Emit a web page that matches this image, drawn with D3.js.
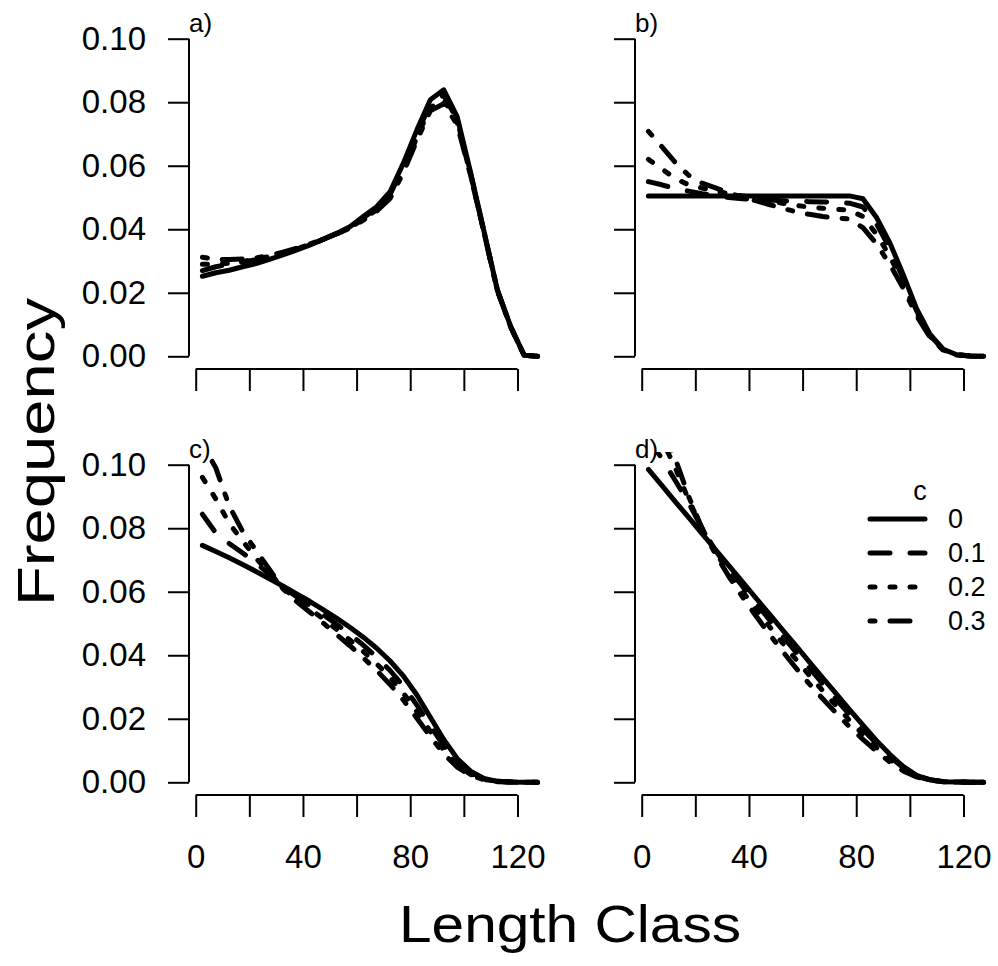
<!DOCTYPE html>
<html>
<head>
<meta charset="utf-8">
<script src="https://cdn.jsdelivr.net/npm/d3@7"></script>
<style>
  body { margin: 0; background: #fff; }
  text { font-family: "Liberation Sans", Arial, sans-serif; fill: #000; }
</style>
</head>
<body>
<div id="chart"></div>
<script>
(function (d3) {
	'use strict';

	// length classes (mid points)
	const lengthClass = [2.5, 7.5, 12.5, 17.5, 22.5, 27.5, 32.5, 37.5, 42.5, 47.5, 52.5, 57.5, 62.5,
	                     67.5, 72.5, 77.5, 82.5, 87.5, 92.5, 97.5, 102.5, 107.5, 112.5, 117.5, 122.5, 127.5];
	const cLabels = ['0', '0.1', '0.2', '0.3'];
	const panelNames = ['a)', 'b)', 'c)', 'd)'];
	const yTicks = [0, 0.02, 0.04, 0.06, 0.08, 0.10];
	const yTickLabels = ['0.00', '0.02', '0.04', '0.06', '0.08', '0.10'];
	const xTicks = [0, 20, 40, 60, 80, 100, 120];
	const xTickLabels = ['0', '', '40', '', '80', '', '120'];

	// a)
	const aC0 = [0.0252, 0.0263, 0.0271, 0.0282, 0.0292, 0.0305, 0.0319, 0.0334, 0.0350, 0.0368, 0.0387, 0.0408, 0.0440,
	             0.0471, 0.0518, 0.0609, 0.0713, 0.0808, 0.0839, 0.0755, 0.0579, 0.0394, 0.0209, 0.0093, 0.0003, 0];
	const aC1 = [0.0270, 0.0282, 0.0290, 0.0297, 0.0304, 0.0313, 0.0324, 0.0337, 0.0351, 0.0368, 0.0386, 0.0406, 0.0436,
	             0.0466, 0.0510, 0.0597, 0.0700, 0.0795, 0.0822, 0.0745, 0.0575, 0.0392, 0.0208, 0.0092, 0.0003, 0];
	const aC2 = [0.0290, 0.0290, 0.0293, 0.0298, 0.0306, 0.0314, 0.0325, 0.0338, 0.0352, 0.0368, 0.0385, 0.0404, 0.0432,
	             0.0461, 0.0503, 0.0588, 0.0690, 0.0783, 0.0808, 0.0738, 0.0572, 0.0391, 0.0207, 0.0092, 0.0003, 0];
	const aC3 = [0.0312, 0.0305, 0.0305, 0.0306, 0.0310, 0.0318, 0.0328, 0.0340, 0.0353, 0.0369, 0.0385, 0.0403, 0.0429,
	             0.0457, 0.0497, 0.0580, 0.0680, 0.0773, 0.0795, 0.0730, 0.0570, 0.0390, 0.0207, 0.0092, 0.0003, 0];
	// b)
	const bC0 = [0.0505, 0.0505, 0.0505, 0.0505, 0.0505, 0.0505, 0.0505, 0.0505, 0.0505, 0.0505, 0.0505, 0.0505, 0.0505,
	             0.0505, 0.0505, 0.0505, 0.0496, 0.0438, 0.0358, 0.0258, 0.0150, 0.0070, 0.0022, 0.0005, 0.0001, 0];
	const bC1 = [0.0550, 0.0540, 0.0528, 0.0520, 0.0512, 0.0505, 0.0500, 0.0496, 0.0494, 0.0492, 0.0490, 0.0488, 0.0487,
	             0.0486, 0.0485, 0.0482, 0.0470, 0.0418, 0.0340, 0.0245, 0.0143, 0.0066, 0.0021, 0.0005, 0.0001, 0];
	const bC2 = [0.0620, 0.0590, 0.0560, 0.0540, 0.0530, 0.0520, 0.0512, 0.0505, 0.0498, 0.0490, 0.0482, 0.0475, 0.0470,
	             0.0466, 0.0463, 0.0460, 0.0440, 0.0385, 0.0315, 0.0232, 0.0136, 0.0063, 0.0020, 0.0005, 0.0001, 0];
	const bC3 = [0.0708, 0.0660, 0.0610, 0.0570, 0.0545, 0.0530, 0.0515, 0.0500, 0.0490, 0.0478, 0.0466, 0.0455, 0.0447,
	             0.0440, 0.0436, 0.0432, 0.0405, 0.0355, 0.0290, 0.0215, 0.0128, 0.0060, 0.0019, 0.0004, 0.0001, 0];
	// c)
	const cC0 = [0.0746, 0.0727, 0.0707, 0.0686, 0.0664, 0.0641, 0.0618, 0.0594, 0.0570, 0.0544, 0.0517, 0.0488, 0.0457,
	             0.0422, 0.0382, 0.0334, 0.0275, 0.0205, 0.0135, 0.0075, 0.0035, 0.0012, 0.0003, 0.0001, 0, 0];
	const cC1 = [0.0844, 0.0785, 0.0752, 0.0722, 0.0690, 0.0655, 0.0615, 0.0585, 0.0557, 0.0528, 0.0498, 0.0466, 0.0432,
	             0.0394, 0.0352, 0.0302, 0.0243, 0.0178, 0.0115, 0.0063, 0.0029, 0.0010, 0.0003, 0.0001, 0, 0];
	const cC2 = [0.0960, 0.0892, 0.0815, 0.0760, 0.0705, 0.0660, 0.0612, 0.0578, 0.0547, 0.0515, 0.0482, 0.0448, 0.0412,
	             0.0373, 0.0330, 0.0280, 0.0222, 0.0160, 0.0102, 0.0055, 0.0025, 0.0009, 0.0003, 0.0001, 0, 0];
	const cC3 = [0.1065, 0.0990, 0.0870, 0.0790, 0.0730, 0.0670, 0.0610, 0.0570, 0.0536, 0.0502, 0.0466, 0.0430, 0.0392,
	             0.0352, 0.0308, 0.0258, 0.0202, 0.0144, 0.0090, 0.0048, 0.0022, 0.0008, 0.0002, 0.0001, 0, 0];
	// d)
	const dC0 = [0.0985, 0.0935, 0.0884, 0.0834, 0.0783, 0.0733, 0.0682, 0.0632, 0.0581, 0.0531, 0.0480, 0.0430, 0.0379,
	             0.0329, 0.0279, 0.0229, 0.0180, 0.0132, 0.0088, 0.0050, 0.0022, 0.0008, 0.0002, 0.0001, 0, 0];
	const dC1 = [0.1080, 0.1020, 0.0950, 0.0880, 0.0800, 0.0730, 0.0672, 0.0618, 0.0565, 0.0513, 0.0461, 0.0410, 0.0360,
	             0.0310, 0.0261, 0.0213, 0.0167, 0.0122, 0.0081, 0.0046, 0.0021, 0.0008, 0.0002, 0.0001, 0, 0];
	const dC2 = [0.1150, 0.1080, 0.0990, 0.0890, 0.0800, 0.0725, 0.0660, 0.0602, 0.0546, 0.0492, 0.0439, 0.0387, 0.0337,
	             0.0288, 0.0241, 0.0195, 0.0151, 0.0110, 0.0072, 0.0041, 0.0019, 0.0007, 0.0002, 0.0001, 0, 0];
	const dC3 = [0.1220, 0.1130, 0.1020, 0.0900, 0.0800, 0.0718, 0.0648, 0.0585, 0.0525, 0.0468, 0.0413, 0.0360, 0.0310,
	             0.0263, 0.0218, 0.0175, 0.0135, 0.0098, 0.0064, 0.0036, 0.0017, 0.0006, 0.0002, 0.0001, 0, 0];

	const panels = [[aC0, aC1, aC2, aC3], [bC0, bC1, bC2, bC3], [cC0, cC1, cC2, cC3], [dC0, dC1, dC2, dC3]];

	var width = 998,
	    height = 966,
	    pw = 362,
	    ph = 343,
	    lwd = 5,
	    origins = [[189, 26], [635, 26], [189, 452], [635, 452]];

	// R lty 1..4 (in units of line width)
	const dashes = ['none', [4, 4], [1, 3], [1, 3, 4, 3]].map(function (d) {
		return d === 'none' ? d : d.map(function (v) { return v * lwd; }).join(',');
	});

	var x = d3.scaleLinear().domain([-2.5, 132.5]).range([0, pw]);
	var y = d3.scaleLinear().domain([-0.004, 0.104]).range([ph, 0]);

	var svg = d3.select('#chart').append('svg')
	    .attr('width', width)
	    .attr('height', height);

	svg.append('rect')
	    .attr('width', width)
	    .attr('height', height)
	    .attr('fill', '#fff');

	var line = d3.line()
	    .x(function (d) { return x(d[0]); })
	    .y(function (d) { return y(d[1]); });

	panels.forEach(function (series, i) {
		var g = svg.append('g')
		    .attr('transform', 'translate(' + origins[i][0] + ',' + origins[i][1] + ')');
		var left = i % 2 === 0,
		    bottom = i >= 2;

		g.append('clipPath').attr('id', 'clip' + i)
		  .append('rect').attr('width', pw).attr('height', ph);

		// y axis
		var yAxis = d3.axisLeft(y)
		    .tickValues(yTicks)
		    .tickSize(21)
		    .tickPadding(22)
		    .tickFormat(function (d, k) { return left ? yTickLabels[k] : ''; });
		var ya = g.append('g').call(yAxis);
		ya.select('.domain').remove();
		ya.append('line')
		    .attr('y1', y(yTicks[0])).attr('y2', y(yTicks[yTicks.length - 1]))
		    .attr('stroke', '#000');
		ya.selectAll('line').attr('stroke-width', 2);
		ya.selectAll('text').attr('font-size', 33).attr('fill', '#000');

		// x axis
		var xAxis = d3.axisBottom(x)
		    .tickValues(xTicks)
		    .tickSize(22)
		    .tickPadding(28)
		    .tickFormat(function (d, k) { return bottom ? xTickLabels[k] : ''; });
		var xa = g.append('g').attr('transform', 'translate(0,' + ph + ')').call(xAxis);
		xa.select('.domain').remove();
		xa.append('line')
		    .attr('x1', x(xTicks[0])).attr('x2', x(xTicks[xTicks.length - 1]))
		    .attr('stroke', '#000');
		xa.selectAll('line').attr('stroke-width', 2);
		xa.selectAll('text').attr('font-size', 33).attr('fill', '#000');

		// curves, drawn from c = 0.3 up to c = 0
		var lines = g.append('g').attr('clip-path', 'url(#clip' + i + ')');
		series.slice().reverse().forEach(function (vals, r) {
			var k = series.length - 1 - r;
			lines.append('path')
			    .datum(d3.zip(lengthClass, vals))
			    .attr('d', line)
			    .attr('fill', 'none')
			    .attr('stroke', '#000')
			    .attr('stroke-width', lwd)
			    .attr('stroke-linecap', 'round')
			    .attr('stroke-linejoin', 'round')
			    .attr('stroke-dasharray', dashes[k]);
		});

		g.append('text')
		    .attr('x', 0)
		    .attr('y', 6)
		    .attr('font-size', 26)
		    .text(panelNames[i]);
	});

	// legend in panel d
	var lg = svg.append('g')
	    .attr('transform', 'translate(' + (origins[3][0] + 235) + ',' + (origins[3][1] + 67) + ')');
	lg.append('text')
	    .attr('x', 50)
	    .attr('y', -28)
	    .attr('text-anchor', 'middle')
	    .attr('dominant-baseline', 'central')
	    .attr('font-size', 27)
	    .text('c');
	cLabels.forEach(function (lab, k) {
		var row = lg.append('g').attr('transform', 'translate(0,' + (k * 34) + ')');
		row.append('line')
		    .attr('x1', 0).attr('x2', 55)
		    .attr('stroke', '#000')
		    .attr('stroke-width', lwd)
		    .attr('stroke-linecap', 'round')
		    .attr('stroke-dasharray', dashes[k]);
		row.append('text')
		    .attr('x', 78)
		    .attr('dominant-baseline', 'central')
		    .attr('font-size', 27)
		    .text(lab);
	});

	// outer axis titles
	svg.append('text')
	    .attr('transform', 'translate(54,452) rotate(-90)')
	    .attr('text-anchor', 'middle')
	    .attr('font-size', 52)
	    .attr('textLength', 308)
	    .attr('lengthAdjust', 'spacingAndGlyphs')
	    .text('Frequency');

	svg.append('text')
	    .attr('x', 570)
	    .attr('y', 942)
	    .attr('text-anchor', 'middle')
	    .attr('font-size', 52)
	    .attr('textLength', 342)
	    .attr('lengthAdjust', 'spacingAndGlyphs')
	    .text('Length Class');
})(d3);
</script>
</body>
</html>
